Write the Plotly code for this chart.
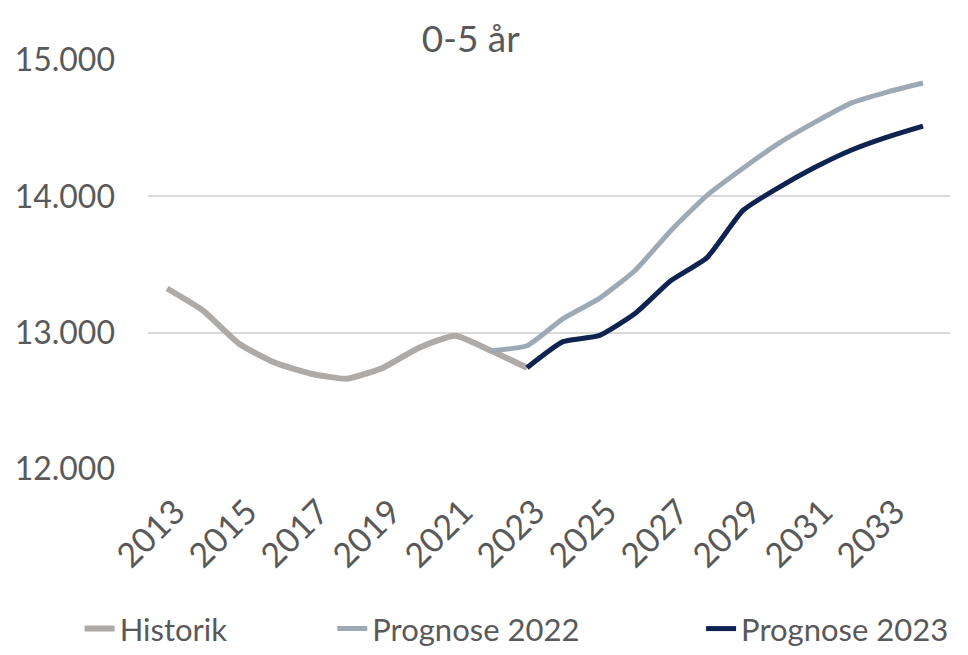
import plotly.graph_objects as go

title = "0-5 år"
years_hist = [2013, 2014, 2015, 2016, 2017, 2018, 2019, 2020, 2021, 2022, 2023]
historik = [13324, 13162, 12919, 12779, 12699, 12662, 12743, 12890, 12978, 12868, 12743]

years_p22 = [2022, 2023, 2024, 2025, 2026, 2027, 2028, 2029, 2030, 2031, 2032, 2033, 2034]
prognose_2022 = [12868, 12904, 13103, 13250, 13456, 13750, 14007, 14206, 14390, 14544, 14684, 14765, 14831]

years_p23 = [2023, 2024, 2025, 2026, 2027, 2028, 2029, 2030, 2031, 2032, 2033, 2034]
prognose_2023 = [12743, 12934, 12978, 13140, 13382, 13551, 13897, 14066, 14213, 14338, 14434, 14515]

x_ticks = [2013, 2015, 2017, 2019, 2021, 2023, 2025, 2027, 2029, 2031, 2033]
y_ticks = [12000, 13000, 14000, 15000]

font_family = "Lato, 'Open Sans', sans-serif"
text_color = "#595959"

fig = go.Figure()
fig.add_trace(go.Scatter(x=years_hist, y=historik, mode="lines", name="Historik", legend="legend",
                         line=dict(color="#AEAAA8", width=6, shape="spline", smoothing=0.5)))
fig.add_trace(go.Scatter(x=years_p22, y=prognose_2022, mode="lines", name="Prognose 2022", legend="legend2",
                         line=dict(color="#9DAAB6", width=5, shape="spline", smoothing=0.5)))
fig.add_trace(go.Scatter(x=years_p23, y=prognose_2023, mode="lines", name="Prognose 2023", legend="legend3",
                         line=dict(color="#0E2350", width=5, shape="spline", smoothing=0.5)))

legend_common = dict(orientation="h", xref="container", yref="container", xanchor="left",
                     yanchor="middle", y=0.052, font=dict(size=31, color=text_color),
                     bgcolor="rgba(0,0,0,0)")

fig.update_layout(
    width=968, height=655,
    paper_bgcolor="white", plot_bgcolor="white",
    separators=",.",
    margin=dict(l=140, r=26, t=52, b=194),
    font=dict(family=font_family, color=text_color, size=32),
    title=dict(text=title, x=0.478, xanchor="center", y=0.952, yanchor="middle",
               font=dict(size=37, color=text_color)),
    showlegend=True,
    legend=dict(legend_common, x=0.074),
    legend2=dict(legend_common, x=0.335),
    legend3=dict(legend_common, x=0.716),
    xaxis=dict(range=[2012.47, 2034.75], tickvals=x_ticks, tickangle=-45,
               showgrid=False, zeroline=False, showline=False, ticks="",
               automargin=False, ticklabelstandoff=15, ticklabelshift=8,
               tickfont=dict(size=34, color=text_color)),
    yaxis=dict(range=[12000, 15000], tickvals=y_ticks, tickformat=",d",
               showgrid=True, gridcolor="#D9D9D9", gridwidth=2, zeroline=False,
               showline=False, ticks="", ticklabelstandoff=32, automargin=False,
               tickfont=dict(size=32, color=text_color)),
)

fig.write_html("out.html")
